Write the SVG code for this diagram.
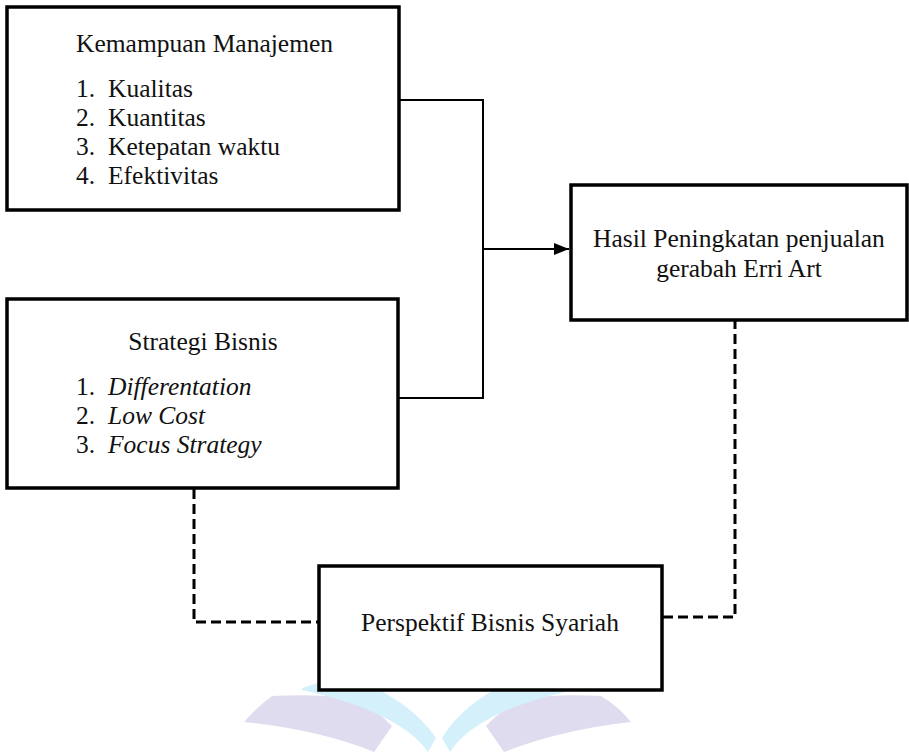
<svg xmlns="http://www.w3.org/2000/svg" width="909" height="752" viewBox="0 0 909 752" font-family="'Liberation Serif', serif">
<style>
.box{fill:#fff;stroke:#000;stroke-width:3.5}
.t{font-family:'Liberation Serif',serif;font-size:25.5px;fill:#111}
.c{text-anchor:middle}
.i{font-style:italic}
.solid{fill:none;stroke:#000;stroke-width:2}
.dash{fill:none;stroke:#000;stroke-width:3;stroke-dasharray:10 5}
.wmc{fill:#d3f0fb}
.wmp{fill:#e0dcef}
</style>
<defs>
<marker id="arr" markerWidth="16" markerHeight="14" refX="15" refY="7" orient="auto" markerUnits="userSpaceOnUse">
<path d="M0,1 L15,7 L0,13 Z" fill="#000"/>
</marker>
</defs>
<rect width="909" height="752" fill="#fff"/>
<g id="watermark">
<path class="wmp" d="M272,696 Q315,694 351,698 Q375,708 392,726 L374,752 Q320,730 244,722 Q258,706 272,696 Z"/>
<path class="wmp" d="M601,696 Q558,694 530,698 Q502,708 486,726 L504,752 Q560,730 631,722 Q618,706 601,696 Z"/>
<path class="wmc" d="M302,688 Q325,680 351,677 Q410,700 436,738 L428,752 Q400,712 302,690 Z"/>
<path class="wmc" d="M573,688 Q548,680 521,677 Q465,700 442,738 L450,752 Q475,712 573,690 Z"/>
</g>
<g id="connectors">
<polyline class="solid" points="399,100 483,100 483,398 398,398"/>
<line class="solid" x1="483" y1="249" x2="569" y2="249" marker-end="url(#arr)"/>
<polyline class="dash" points="194,489 194,622 319,622"/>
<polyline class="dash" points="663,617 735,617 735,321"/>
</g>
<g id="kemampuan">
<rect class="box" x="7" y="7" width="392" height="203"/>
<text class="t" x="76" y="52">Kemampuan Manajemen</text>
<text class="t" x="76" y="97">1.</text><text class="t" x="108" y="97">Kualitas</text>
<text class="t" x="76" y="126">2.</text><text class="t" x="108" y="126">Kuantitas</text>
<text class="t" x="76" y="155">3.</text><text class="t" x="108" y="155">Ketepatan waktu</text>
<text class="t" x="76" y="184">4.</text><text class="t" x="108" y="184">Efektivitas</text>
</g>
<g id="strategi">
<rect class="box" x="7" y="299" width="391" height="189"/>
<text class="t c" x="203" y="350">Strategi Bisnis</text>
<text class="t" x="76" y="395">1.</text><text class="t i" x="108" y="395">Differentation</text>
<text class="t" x="76" y="424">2.</text><text class="t i" x="108" y="424">Low Cost</text>
<text class="t" x="76" y="453">3.</text><text class="t i" x="108" y="453">Focus Strategy</text>
</g>
<g id="hasil">
<rect class="box" x="571" y="185" width="336" height="135"/>
<text class="t c" x="739" y="247">Hasil Peningkatan penjualan</text>
<text class="t c" x="739" y="277">gerabah Erri Art</text>
</g>
<g id="perspektif">
<rect class="box" x="319" y="566" width="343" height="124"/>
<text class="t c" x="490" y="631">Perspektif Bisnis Syariah</text>
</g>
</svg>
